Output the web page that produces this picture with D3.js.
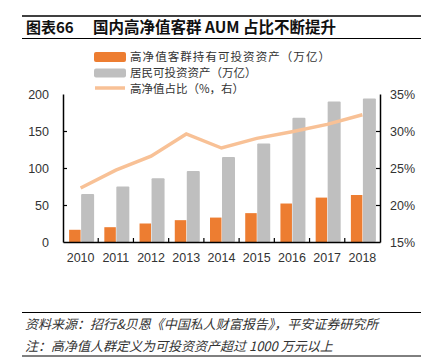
<!DOCTYPE html>
<html><head><meta charset="utf-8">
<script src="https://cdn.jsdelivr.net/npm/d3@7"></script>
<style>body{margin:0;background:#fff}svg{display:block}</style>
</head><body>
<svg id="c" width="429" height="359"></svg>
<script>
const years = ["2010","2011","2012","2013","2014","2015","2016","2017","2018"];
const hnwAssets = [16.5, 20, 25, 29.5, 33, 39, 52, 60, 63.5];
const residentAssets = [65, 75, 86, 96, 115, 133, 168, 190, 194];
const hnwShare = [22.3, 24.7, 26.6, 29.6, 27.7, 29.0, 29.9, 30.9, 32.2];
const leftTicks = [0, 50, 100, 150, 200];
const rightTicks = [15, 20, 25, 30, 35];
const legendLabels = ["高净值客群持有可投资资产（万亿）", "居民可投资资产（万亿）", "高净值占比（%，右）"];

const svg = d3.select("#c");
const font = "'Liberation Sans', Arial, 'Noto Sans CJK SC', sans-serif";
const cjk = "'Noto Sans CJK SC', 'Liberation Sans', sans-serif";
const L = 63, R = 380, T = 94, B = 242;

// header
svg.append("line").attr("x1",22).attr("x2",421).attr("y1",16).attr("y2",16).attr("stroke","#000").attr("stroke-width",1.5);
svg.append("line").attr("x1",22).attr("x2",421).attr("y1",38.5).attr("y2",38.5).attr("stroke","#000").attr("stroke-width",1);
svg.append("text").attr("x",26).attr("y",33).attr("font-family",cjk).attr("font-weight","bold").attr("font-size",15).attr("fill","#111").text("图表66");
svg.append("text").attr("x",93).attr("y",33).attr("font-family",cjk).attr("font-weight","bold").attr("font-size",15.5).attr("fill","#111").text("国内高净值客群 AUM 占比不断提升");

const x = d3.scaleBand().domain(years).range([L, R]).paddingInner(0).paddingOuter(0);
const y = d3.scaleLinear().domain([0, 200]).range([B, T]);
const y2 = d3.scaleLinear().domain([15, 35]).range([B, T]);
const bw = 12;
const orange = "#ED7D31", gray = "#BFBFBF", lineC = "#F8C196";

// bars
svg.append("g").selectAll("rect").data(years).join("rect")
  .attr("x", d => x(d) + x.bandwidth()/2 - bw + 0.5)
  .attr("width", bw - 0.5)
  .attr("y", (d,i) => y(hnwAssets[i])).attr("height", (d,i) => B - y(hnwAssets[i]))
  .attr("fill", orange);
svg.append("g").selectAll("rect").data(years).join("rect")
  .attr("x", d => x(d) + x.bandwidth()/2 + 0.5)
  .attr("width", bw + 1)
  .attr("y", (d,i) => y(residentAssets[i])).attr("height", (d,i) => B - y(residentAssets[i]))
  .attr("fill", gray).attr("rx",1);

// line
const line = d3.line().x((d,i) => x(years[i]) + x.bandwidth()/2).y(d => y2(d));
svg.append("path").datum(hnwShare).attr("d", line).attr("fill","none")
  .attr("stroke", lineC).attr("stroke-width", 3.5).attr("stroke-linejoin","miter");

// axes
const ax = g => { g.select(".domain").attr("stroke","#000").attr("stroke-width",1.5);
  g.selectAll(".tick line").attr("stroke","#000").attr("stroke-width",1.2);
  g.selectAll("text").attr("font-family",font).attr("font-size",12.5).attr("fill","#333"); };
svg.append("g").attr("transform",`translate(${L},0)`)
  .call(d3.axisLeft(y).tickValues(leftTicks).tickSizeInner(-4).tickSizeOuter(0).tickPadding(14))
  .call(ax).call(g => g.selectAll(".tick").filter(d => d===0 || d===200).select("line").remove());
svg.append("g").attr("transform",`translate(${R},0)`)
  .call(d3.axisRight(y2).tickValues(rightTicks).tickFormat(d => d + "%").tickSizeInner(-4).tickSizeOuter(0).tickPadding(10))
  .call(ax).call(g => g.selectAll(".tick").filter(d => d===15 || d===35).select("line").remove());
const xb = svg.append("g").attr("transform",`translate(0,${B})`)
  .call(d3.axisBottom(x).tickSize(0).tickPadding(11)).call(ax);
xb.selectAll(".tick line").remove();
svg.append("g").selectAll("line").data(years.slice(1)).join("line")
  .attr("x1", d => x(d)).attr("x2", d => x(d)).attr("y1", B).attr("y2", B - 4)
  .attr("stroke","#000").attr("stroke-width",1.2);

// legend
const rowY = [57, 73, 89];
const lg = svg.append("g");
lg.append("rect").attr("x",94).attr("y",rowY[0]-5).attr("width",32).attr("height",10).attr("rx",2).attr("fill",orange);
lg.append("rect").attr("x",94).attr("y",rowY[1]-4.5).attr("width",32).attr("height",9).attr("rx",2).attr("fill",gray);
lg.append("line").attr("x1",95).attr("x2",125).attr("y1",rowY[2]-1).attr("y2",rowY[2]-1).attr("stroke",lineC).attr("stroke-width",3.5);
legendLabels.forEach((t,i) => lg.append("text").attr("x",130).attr("y",rowY[i]).attr("dy","0.36em")
  .attr("font-family",cjk).attr("font-size",11.5).attr("textLength", i===0 ? 200 : null).attr("fill","#333").text(t));

// footer
svg.append("line").attr("x1",22).attr("x2",421).attr("y1",312.5).attr("y2",312.5).attr("stroke","#000").attr("stroke-width",1);
svg.append("line").attr("x1",22).attr("x2",421).attr("y1",356).attr("y2",356).attr("stroke","#000").attr("stroke-width",1);
svg.append("text").attr("x",25).attr("y",329).attr("font-family",cjk).attr("font-style","italic").attr("font-size",13).attr("fill","#333")
  .text("资料来源：招行&贝恩《中国私人财富报告》，平安证券研究所");
svg.append("text").attr("x",25).attr("y",351).attr("font-family",cjk).attr("font-style","italic").attr("font-size",13).attr("fill","#333")
  .text("注：高净值人群定义为可投资资产超过 1000 万元以上");
</script>
</body></html>
